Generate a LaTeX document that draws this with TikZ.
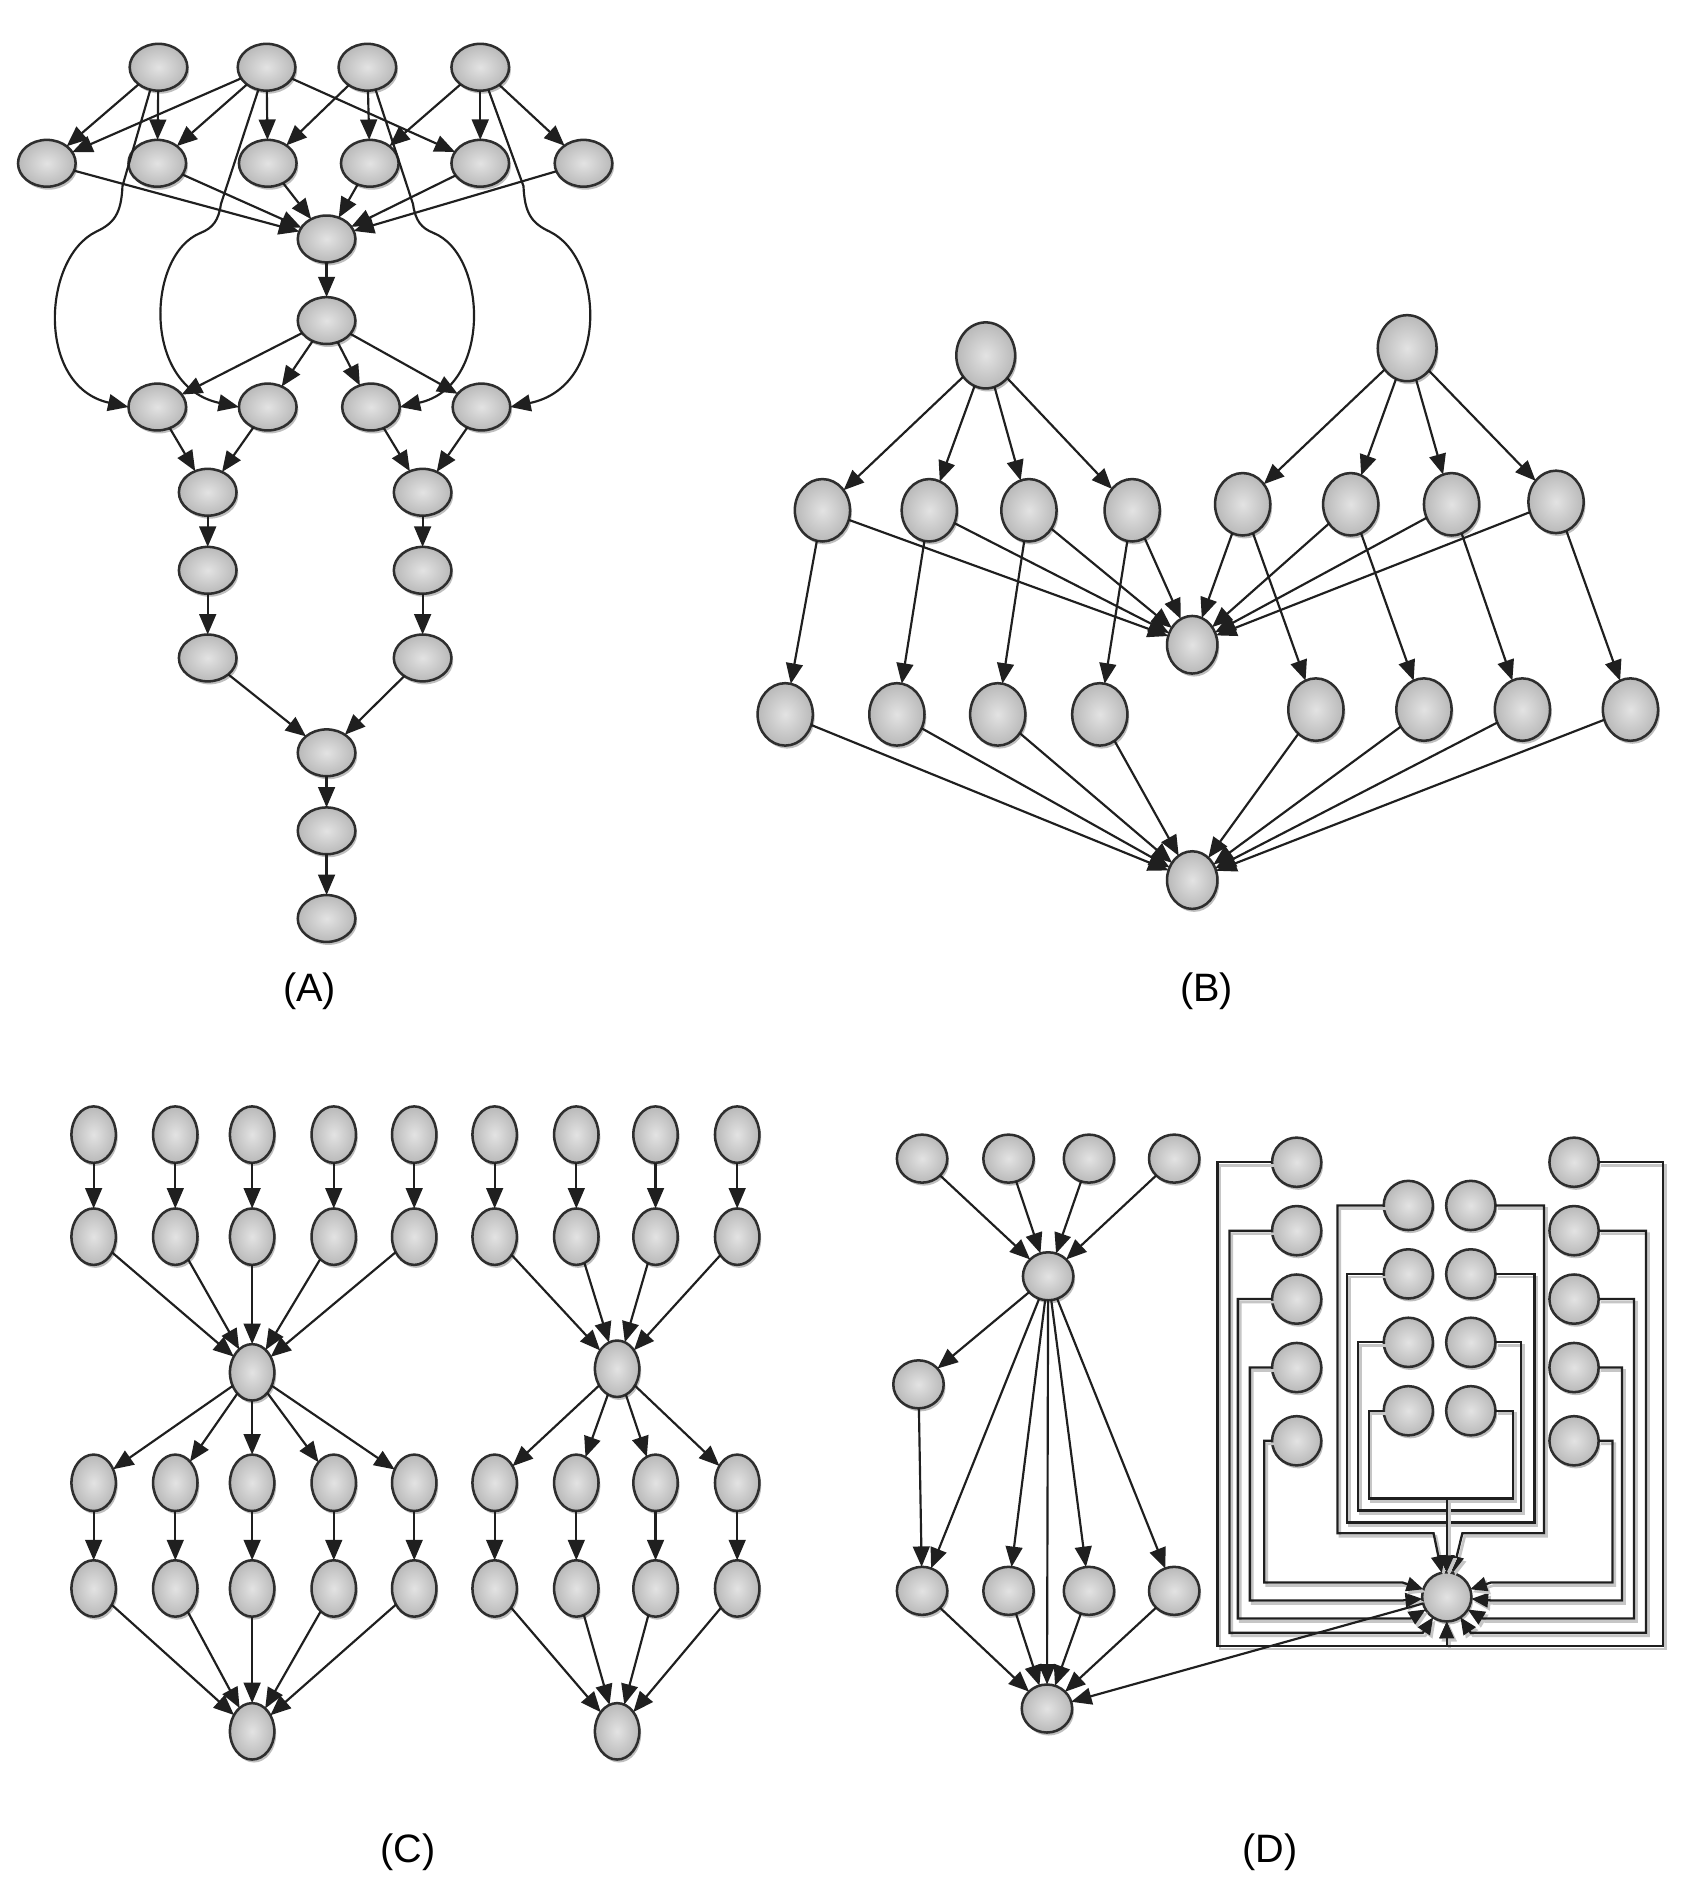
\documentclass[tikz,border=0pt]{standalone}
\usepackage{fontspec}
\setmainfont{Liberation Sans}
\usetikzlibrary{arrows.meta,shapes.geometric,shadows}
\begin{document}
\begin{tikzpicture}[x=1pt,y=-1pt,
  nbase/.style={ellipse, draw=black!82, line width=2.1pt, inner color=gray!22, outer color=gray!55, inner sep=0pt, outer sep=0pt, drop shadow={shadow xshift=1.5pt, shadow yshift=-2.5pt, opacity=0.25, fill=black}},
  nA/.style={nbase, minimum width=48pt, minimum height=39pt},
  nB/.style={nbase, minimum width=46pt, minimum height=52pt},
  nBt/.style={nbase, minimum width=49pt, minimum height=55pt},
  nBh/.style={nbase, minimum width=42pt, minimum height=48pt},
  nC/.style={nbase, minimum width=37pt, minimum height=47pt},
  nD/.style={nbase, minimum width=42pt, minimum height=40pt},
  nDR/.style={nbase, minimum width=41pt, minimum height=41pt},
  arr/.style={draw=black!88, line width=1.8pt, -{Triangle[length=17pt,width=14pt]}},
  wire/.style={draw=black!88, line width=1.9pt, -{Triangle[length=14pt,width=12pt]},
    preaction={draw=gray!45, line width=2.2pt, transform canvas={shift={(2pt,-2.5pt)}}}},
  lab/.style={font=\fontsize{33}{40}\selectfont, inner sep=0pt}
]
\fill[white] (0,0) rectangle (1414,1575);
\useasboundingbox (0,0) rectangle (1414,1575);

% ================= Panel A =================
\foreach \nm/\x in {a1/132,a2/222,a3/306,a4/400} \node[nA] (\nm) at (\x,56) {};
\foreach \nm/\x in {s1/39,s2/131,s3/223,s4/308,s5/400,s6/486} \node[nA] (\nm) at (\x,136) {};
\node[nA] (h1) at (272,199) {};
\node[nA] (h2) at (272,267) {};
\foreach \nm/\x in {r1/131,r2/223,r3/309,r4/401} \node[nA] (\nm) at (\x,339) {};
\node[nA] (m1) at (173,410) {};
\node[nA] (m2) at (352,410) {};
\node[nA] (k1) at (173,475) {};
\node[nA] (k2) at (352,475) {};
\node[nA] (o1) at (173,548) {};
\node[nA] (o2) at (352,548) {};
\node[nA] (b1) at (272,627) {};
\node[nA] (b2) at (272,692) {};
\node[nA] (b3) at (272,765) {};
\node[lab] (labA) at (258,826) {(A)};

\foreach \u/\v in {a1/s1,a1/s2,a2/s1,a2/s2,a2/s3,a2/s5,a3/s3,a3/s4,a4/s4,a4/s5,a4/s6,
  s1/h1,s2/h1,s3/h1,s4/h1,s5/h1,s6/h1,h1/h2,h2/r1,h2/r2,h2/r3,h2/r4,
  r1/m1,r2/m1,r3/m2,r4/m2,m1/k1,k1/o1,m2/k2,k2/o2,o1/b1,o2/b1,b1/b2,b2/b3}
  \draw[arr] (\u) -- (\v);

\draw[arr] (a1.250) -- (102,155) .. controls (101,178) and (95,186) .. (80,193)
  .. controls (35,215) and (30,322) .. (r1.west);
\draw[arr] (a2.250) -- (184,170) .. controls (182,184) and (177,190) .. (167,194)
  .. controls (122,212) and (118,322) .. (r2.west);
\draw[arr] (a3.290) -- (344,170) .. controls (346,184) and (351,190) .. (361,194)
  .. controls (406,212) and (410,322) .. (r3.east);
\draw[arr] (a4.290) -- (436,155) .. controls (437,178) and (443,186) .. (458,193)
  .. controls (503,215) and (508,322) .. (r4.east);

% ================= Panel B =================
\node[nBt] (bt1) at (821,296) {};
\node[nBt] (bt2) at (1172,290) {};
\foreach \nm/\x/\y in {p1/685/425,p2/774/425,p3/857/425,p4/943/425,p5/1035/420,p6/1125/420,p7/1209/420,p8/1296/418}
  \node[nB] (\nm) at (\x,\y) {};
\node[nBh] (bm) at (993,537) {};
\foreach \nm/\x/\y in {q1/654/595,q2/747/595,q3/831/595,q4/916/595,q5/1096/591,q6/1186/591,q7/1268/591,q8/1358/591}
  \node[nB] (\nm) at (\x,\y) {};
\node[nBh] (bb) at (993,733) {};
\node[lab] (labB) at (1005,826) {(B)};

\foreach \i in {1,2,3,4} \draw[arr] (bt1) -- (p\i);
\foreach \i in {5,6,7,8} \draw[arr] (bt2) -- (p\i);
\foreach \i in {1,...,8} {
  \draw[arr] (p\i) -- (q\i);
  \draw[arr] (p\i) -- (bm);
  \draw[arr] (q\i) -- (bb);
}

% ================= Panel C =================
\foreach \i/\x in {1/78,2/146,3/210,4/278,5/345} {
  \node[nC] (ct\i) at (\x,945) {};
  \node[nC] (cu\i) at (\x,1030) {};
  \node[nC] (cv\i) at (\x,1235) {};
  \node[nC] (cw\i) at (\x,1323) {};
}
\node[nC] (ch1) at (210,1143) {};
\node[nC] (cb1) at (210,1442) {};
\foreach \i/\x in {6/412,7/480,8/546,9/614} {
  \node[nC] (ct\i) at (\x,945) {};
  \node[nC] (cu\i) at (\x,1030) {};
  \node[nC] (cv\i) at (\x,1235) {};
  \node[nC] (cw\i) at (\x,1323) {};
}
\node[nC] (ch2) at (514,1140) {};
\node[nC] (cb2) at (514,1442) {};
\node[lab] (labC) at (340,1543) {(C)};

\foreach \i in {1,...,5} {
  \draw[arr] (ct\i) -- (cu\i);
  \draw[arr] (cu\i) -- (ch1);
  \draw[arr] (ch1) -- (cv\i);
  \draw[arr] (cv\i) -- (cw\i);
  \draw[arr] (cw\i) -- (cb1);
}
\foreach \i in {6,...,9} {
  \draw[arr] (ct\i) -- (cu\i);
  \draw[arr] (cu\i) -- (ch2);
  \draw[arr] (ch2) -- (cv\i);
  \draw[arr] (cv\i) -- (cw\i);
  \draw[arr] (cw\i) -- (cb2);
}

% ================= Panel D (left) =================
\foreach \i/\x in {1/768,2/840,3/907,4/978} {
  \node[nD] (dt\i) at (\x,965) {};
  \node[nD] (dr\i) at (\x,1325) {};
}
\node[nD] (dh) at (873,1063) {};
\node[nD] (dl) at (765,1153) {};
\node[nD] (db) at (872,1423) {};
\node[lab] (labD) at (1058,1543) {(D)};

\foreach \i in {1,...,4} {
  \draw[arr] (dt\i) -- (dh);
  \draw[arr] (dh) -- (dr\i);
  \draw[arr] (dr\i) -- (db);
}
\draw[arr] (dh) -- (dl);
\draw[arr] (dl) -- (dr1);
\draw[arr] (dh) -- (db);

% ================= Panel D (right) =================
\node[nDR] (dx) at (1205,1330) {};
\foreach \k/\y in {1/968,2/1025,3/1082,4/1139,5/1200} {
  \node[nDR] (ol\k) at (1080,\y) {};
  \node[nDR] (or\k) at (1311,\y) {};
}
\foreach \k/\y in {1/1004,2/1061,3/1118,4/1175} {
  \node[nDR] (il\k) at (1173,\y) {};
  \node[nDR] (ir\k) at (1225,\y) {};
}

\foreach \k/\y/\lx/\rx/\ly/\ex/\fx in {1/968/1014/1385/1371/1205/1205, 2/1025/1024/1371/1360/1185/1225, 3/1082/1031/1361/1348/1175/1235, 4/1139/1041/1351/1333/1168/1242, 5/1200/1053/1343/1318/1168/1242} {
  \draw[wire] (ol\k.west) -- (\lx,\y) -- (\lx,\ly) -- (\ex,\ly) -- (dx);
  \draw[wire] (or\k.east) -- (\rx,\y) -- (\rx,\ly) -- (\fx,\ly) -- (dx);
}
\foreach \k/\y/\lx/\rx/\ly/\ex/\fx in {1/1004/1114/1286/1277/1194/1218, 2/1061/1122/1278/1268/1205/1205, 3/1118/1131/1267/1258/1205/1205, 4/1175/1140/1260/1248/1205/1205} {
  \draw[wire] (il\k.west) -- (\lx,\y) -- (\lx,\ly) -- (\ex,\ly) -- (dx);
  \draw[wire] (ir\k.east) -- (\rx,\y) -- (\rx,\ly) -- (\fx,\ly) -- (dx);
}
\draw[arr] (dx) -- (db);

\end{tikzpicture}
\end{document}
